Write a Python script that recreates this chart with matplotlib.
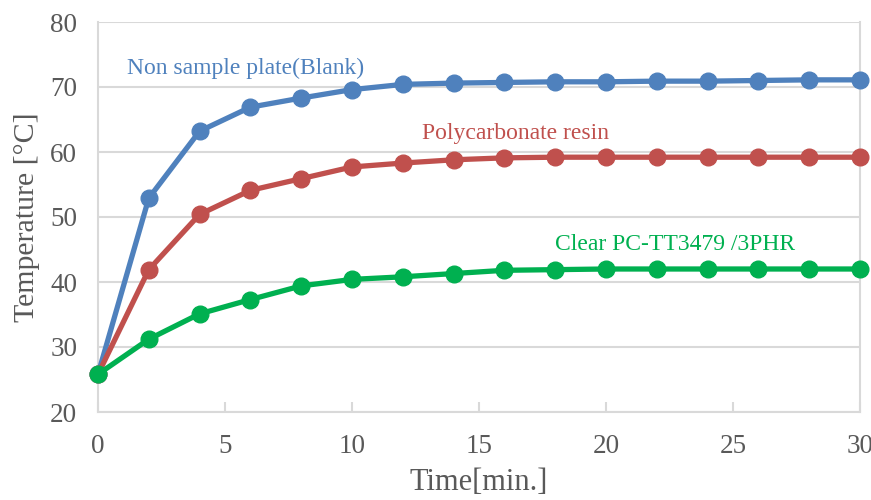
import matplotlib
matplotlib.use("Agg")
import matplotlib.pyplot as plt

time_min = [0, 2, 4, 6, 8, 10, 12, 14, 16, 18, 20, 22, 24, 26, 28, 30]
blank = [25.8, 52.9, 63.2, 66.9, 68.3, 69.6, 70.4, 70.6, 70.7, 70.8, 70.8, 70.9, 70.9, 71.0, 71.1, 71.1]
polycarbonate = [25.8, 41.9, 50.4, 54.1, 55.9, 57.7, 58.3, 58.8, 59.1, 59.2, 59.2, 59.2, 59.2, 59.2, 59.2, 59.2]
clear_pc = [25.8, 31.2, 35.1, 37.3, 39.4, 40.4, 40.8, 41.3, 41.8, 41.9, 42.0, 42.0, 42.0, 42.0, 42.0, 42.0]
x_ticks = [0, 5, 10, 15, 20, 25, 30]
y_ticks = [20, 30, 40, 50, 60, 70, 80]
labels = ["Non sample plate(Blank)", "Polycarbonate resin", "Clear PC-TT3479 /3PHR"]

plt.rcParams['font.family'] = ['Liberation Serif', 'DejaVu Serif']

fig = plt.figure(figsize=(8.71, 5.0), dpi=100)
ax = fig.add_axes([0.1125, 0.176, 0.8749, 0.780])

colors = ["#4F81BD", "#C0504D", "#00B050"]
for series, c in zip([blank, polycarbonate, clear_pc], colors):
    ax.plot(time_min, series, color=c, lw=3.8, marker='o', ms=12, mec=c, mfc=c, zorder=3, clip_on=False)

ax.set_xlim(0, 30)
ax.set_ylim(20, 80)
ax.set_xticks(x_ticks)
ax.set_yticks(y_ticks)
ax.yaxis.grid(True, color='#D9D9D9', lw=1.5)
ax.set_axisbelow(True)
for s in ['left', 'bottom', 'right', 'top']:
    ax.spines[s].set_color('#D9D9D9')
    ax.spines[s].set_linewidth(1.5)
ax.spines['top'].set_visible(False)
ax.tick_params(axis='x', direction='in', length=7, width=1.5, color='#D9D9D9',
               labelsize=19.5, labelcolor='#595959', pad=16)
ax.tick_params(axis='y', length=0, labelsize=19.5, labelcolor='#595959', pad=15)

ax.set_xlabel("Time[min.]", fontsize=22, color='#595959', labelpad=6)
ax.set_ylabel("Temperature [°C]", fontsize=21.5, color='#595959', labelpad=7)

ax.text(1.14, 72.8, labels[0], color=colors[0], fontsize=17, ha='left', va='center')
ax.text(12.75, 62.9, labels[1], color=colors[1], fontsize=17, ha='left', va='center')
ax.text(18.0, 45.7, labels[2], color=colors[2], fontsize=17, ha='left', va='center')

fig.savefig("out.png", dpi=100)
